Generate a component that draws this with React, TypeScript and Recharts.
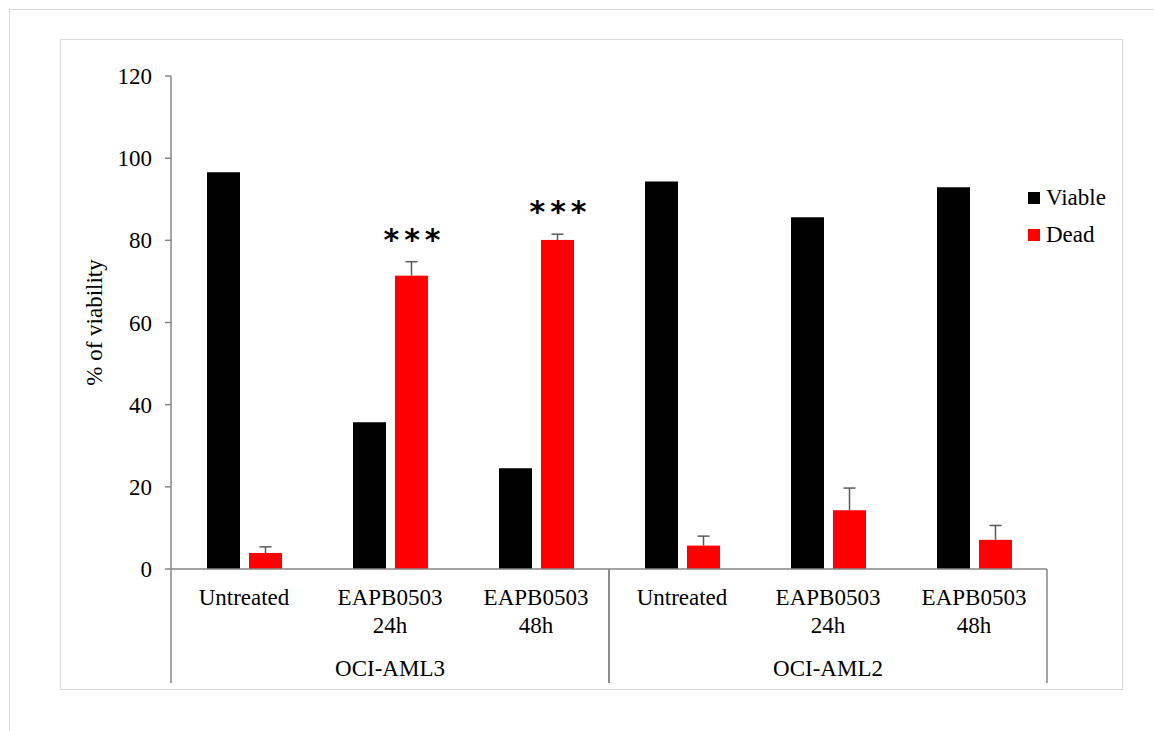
import React from "react";
import { BarChart, Bar, XAxis, YAxis, Legend, LabelList } from "recharts";

// treatment labels (two lines) and cell-line groups
const treatmentLine1 = ["Untreated", "EAPB0503", "EAPB0503", "Untreated", "EAPB0503", "EAPB0503"];
const treatmentLine2 = ["", "24h", "48h", "", "24h", "48h"];
const cellLines = ["OCI-AML3", "OCI-AML3", "OCI-AML3", "OCI-AML2", "OCI-AML2", "OCI-AML2"];

const viable = [96.6, 35.7, 24.5, 94.3, 85.6, 92.9];
const dead = [3.9, 71.4, 80.1, 5.7, 14.3, 7.1];
const deadErr = [1.5, 3.4, 1.4, 2.3, 5.4, 3.5];
const significance = ["", "***", "***", "", "", ""];

const yTicks = [0, 20, 40, 60, 80, 100, 120];

const FONT = "Liberation Serif";
const AXIS = "#868686";
const RED = "#ff0000";

const data = viable.map((v, i) => ({
  key: `${cellLines[i]}-${i}`,
  idx: i,
  viable: v,
  dead: dead[i],
  deadErr: deadErr[i],
  sig: significance[i],
}));

function DeadBar(props: any) {
  const { x, y, width, height, payload } = props;
  const pxPerUnit = payload.dead ? height / payload.dead : 0;
  const errTop = y - payload.deadErr * pxPerUnit;
  const cx = x + width / 2;
  return (
    <g>
      <rect x={x} y={y} width={width} height={height} fill={RED} />
      <line x1={cx} x2={cx} y1={y} y2={errTop} stroke="#595959" strokeWidth={1.5} />
      <line x1={cx - 6} x2={cx + 6} y1={errTop} y2={errTop} stroke="#595959" strokeWidth={1.5} />
    </g>
  );
}

function StarLabel(props: any) {
  const { x, y, width, height, index } = props;
  const sig = significance[index];
  if (!sig) return null;
  const pxPerUnit = height / dead[index];
  const errTop = y - deadErr[index] * pxPerUnit;
  return (
    <text
      x={x + width / 2 + 3}
      y={errTop - 12}
      textAnchor="middle"
      fontFamily="DejaVu Sans"
      fontWeight="bold"
      fontSize={30}
      letterSpacing={5}
      fill="#000"
    >
      {sig}
    </text>
  );
}

function CategoryTick(props: any) {
  const { x, y, payload } = props;
  const i = payload.index ?? 0;
  const half = payload.offset ?? 73;
  const groupStart = i % 3 === 0;
  const groupEnd = i % 3 === 2;
  return (
    <g>
      <text x={x} y={y + 36} textAnchor="middle" fontFamily={FONT} fontSize={23} fill="#000">
        {treatmentLine1[i]}
      </text>
      {treatmentLine2[i] ? (
        <text x={x} y={y + 64} textAnchor="middle" fontFamily={FONT} fontSize={23} fill="#000">
          {treatmentLine2[i]}
        </text>
      ) : null}
      {i % 3 === 1 ? (
        <text x={x} y={y + 107} textAnchor="middle" fontFamily={FONT} fontSize={23} fill="#000">
          {cellLines[i]}
        </text>
      ) : null}
      {groupStart ? (
        <line x1={x - half} x2={x - half} y1={y} y2={y + 114} stroke={AXIS} strokeWidth={1.5} />
      ) : null}
      {groupEnd ? (
        <line x1={x + half} x2={x + half} y1={y} y2={y + 114} stroke={AXIS} strokeWidth={1.5} />
      ) : null}
    </g>
  );
}

function LegendBox() {
  const items = [
    { label: "Viable", color: "#000" },
    { label: "Dead", color: RED },
  ];
  return (
    <div style={{ fontFamily: FONT, fontSize: 23, color: "#000" }}>
      {items.map((it) => (
        <div key={it.label} style={{ display: "flex", alignItems: "center", height: 37 }}>
          <span style={{ display: "inline-block", width: 12, height: 12, background: it.color, marginRight: 6 }} />
          <span>{it.label}</span>
        </div>
      ))}
    </div>
  );
}

export default function App() {
  return (
    <div style={{ position: "absolute", left: 0, top: 0, width: 1154, height: 731, background: "#fff", overflow: "hidden" }}>
      <div style={{ position: "absolute", left: 9, top: 9, width: 1200, height: 800, border: "1px solid #d9d9d9" }} />
      <div style={{ position: "absolute", left: 60, top: 39, width: 1061, height: 649, border: "1px solid #d9d9d9" }} />
      <div style={{ position: "absolute", left: 0, top: 0 }}>
        <BarChart
          width={1154}
          height={731}
          data={data}
          margin={{ top: 76, right: 107, left: 111, bottom: 42 }}
          barCategoryGap="24%"
          barGap={9}
        >
          <XAxis
            dataKey="key"
            height={120}
            axisLine={{ stroke: AXIS, strokeWidth: 1.5 }}
            tickLine={false}
            tickSize={0}
            tickMargin={0}
            interval={0}
            tick={<CategoryTick />}
          />
          <YAxis
            width={60}
            domain={[0, 120]}
            ticks={yTicks}
            interval={0}
            axisLine={{ stroke: AXIS, strokeWidth: 1.5 }}
            tickLine={{ stroke: AXIS, strokeWidth: 1.5 }}
            tickSize={6}
            tickMargin={13}
            tick={{ fontFamily: FONT, fontSize: 23, fill: "#000" }}
            label={{
              content: ({ viewBox }: any) => {
                const cx = viewBox.x + viewBox.width - 77;
                const cy = viewBox.y + viewBox.height / 2;
                return (
                  <text
                    x={cx}
                    y={cy}
                    transform={`rotate(-90 ${cx} ${cy})`}
                    textAnchor="middle"
                    dominantBaseline="central"
                    fontFamily={FONT}
                    fontSize={23}
                    fill="#000"
                  >
                    % of viability
                  </text>
                );
              },
            }}
          />
          <Legend
            layout="vertical"
            align="center"
            verticalAlign="middle"
            content={<LegendBox />}
            wrapperStyle={{ left: 1028, top: 179, width: 100 }}
          />
          <Bar dataKey="viable" name="Viable" fill="#000" barSize={33} isAnimationActive={false} />
          <Bar dataKey="dead" name="Dead" fill={RED} barSize={33} shape={<DeadBar />} isAnimationActive={false}>
            <LabelList dataKey="sig" content={<StarLabel />} />
          </Bar>
        </BarChart>
      </div>
    </div>
  );
}
